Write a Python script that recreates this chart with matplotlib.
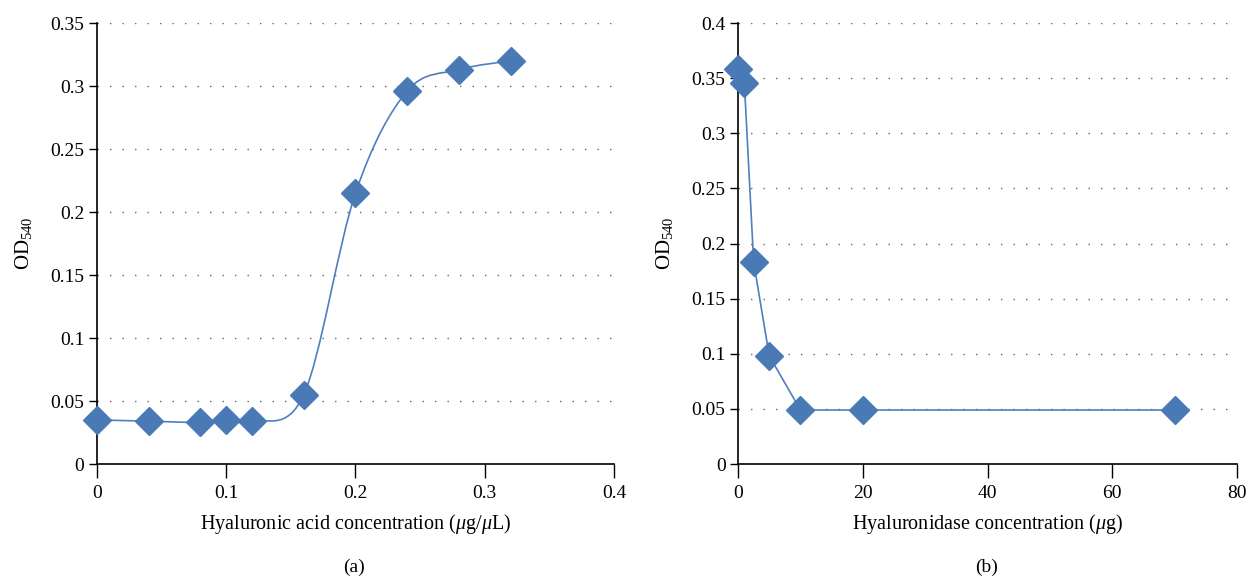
import numpy as np
import matplotlib
matplotlib.use("Agg")
import matplotlib.pyplot as plt
from matplotlib.path import Path
from matplotlib.patches import PathPatch

# panel (a): hyaluronic acid
ha_conc = [0, 0.04, 0.08, 0.10, 0.12, 0.16, 0.20, 0.24, 0.28, 0.32]
ha_od = [0.035, 0.034, 0.033, 0.035, 0.034, 0.055, 0.215, 0.296, 0.313, 0.320]

# panel (b): hyaluronidase
hase_conc = [0, 1, 2.5, 5, 10, 20, 70]
hase_od = [0.358, 0.346, 0.183, 0.098, 0.049, 0.049, 0.049]

blue = '#4a7ab5'
line_blue = '#4f7fc0'

plt.rcParams['font.family'] = ['Liberation Serif', 'DejaVu Serif']
plt.rcParams['mathtext.fontset'] = 'custom'
plt.rcParams['mathtext.rm'] = 'Liberation Serif'
plt.rcParams['mathtext.it'] = 'Liberation Serif:italic'


def smooth_path(x, y):
    # Catmull-Rom style bezier, like a spreadsheet "smoothed line"
    pts = np.column_stack([x, y])
    ext = np.vstack([pts[0], pts, pts[-1]])
    verts = [pts[0]]
    codes = [Path.MOVETO]
    for i in range(1, len(ext) - 2):
        p0, p1, p2, p3 = ext[i - 1], ext[i], ext[i + 1], ext[i + 2]
        verts += [p1 + (p2 - p0) / 6, p2 - (p3 - p1) / 6, p2]
        codes += [Path.CURVE4] * 3
    return Path(verts, codes)


def style_axes(ax, ymax, ystep):
    ax.set_ylim(0, ymax)
    yt = np.arange(0, ymax + 1e-9, ystep)
    ax.set_yticks(yt)
    ax.set_yticklabels(['0'] + ['%g' % v for v in yt[1:]])
    for v in yt[1:]:
        ax.axhline(v, color='#666666', lw=1, ls=(0, (1, 8)), zorder=0)
    for s in ['top', 'right']:
        ax.spines[s].set_visible(False)
    ax.spines['left'].set_linewidth(1.2)
    ax.spines['bottom'].set_linewidth(1.2)
    ax.tick_params(axis='x', direction='out', length=10, width=1, pad=5, labelsize=14)
    ax.tick_params(axis='y', direction='out', length=6, width=1, pad=3, labelsize=14)
    ax.set_ylabel('OD$_{540}$', fontsize=15, labelpad=12)


fig = plt.figure(figsize=(12.51, 5.77), dpi=100)
ax1 = fig.add_axes([0.0775, 0.1958, 0.4133, 0.7643])
ax2 = fig.add_axes([0.590, 0.1958, 0.3988, 0.7643])

# (a)
ax1.set_xlim(0, 0.4)
ax1.set_xticks([0, 0.1, 0.2, 0.3, 0.4])
ax1.set_xticklabels(['0', '0.1', '0.2', '0.3', '0.4'])
style_axes(ax1, 0.35, 0.05)
ax1.add_patch(PathPatch(smooth_path(ha_conc, ha_od), fill=False, ec=line_blue, lw=1.2, zorder=2))
ax1.plot(ha_conc, ha_od, ls='none', marker='D', ms=14, color=blue, clip_on=False, zorder=3)
ax1.set_xlabel(r'Hyaluronic acid concentration ($\mu$g/$\mu$L)', fontsize=14.5, labelpad=7)

# (b)
ax2.set_xlim(0, 80)
ax2.set_xticks([0, 20, 40, 60, 80])
style_axes(ax2, 0.4, 0.05)
ax2.plot(hase_conc, hase_od, color=line_blue, lw=1.2, zorder=2)
ax2.plot(hase_conc, hase_od, ls='none', marker='D', ms=14, color=blue, clip_on=False, zorder=3)
ax2.set_xlabel(r'Hyaluronidase concentration ($\mu$g)', fontsize=14.5, labelpad=7)

fig.text(0.283, 0.017, '(a)', ha='center', va='center', fontsize=14)
fig.text(0.789, 0.017, '(b)', ha='center', va='center', fontsize=14)

fig.savefig('out.png', dpi=100)
